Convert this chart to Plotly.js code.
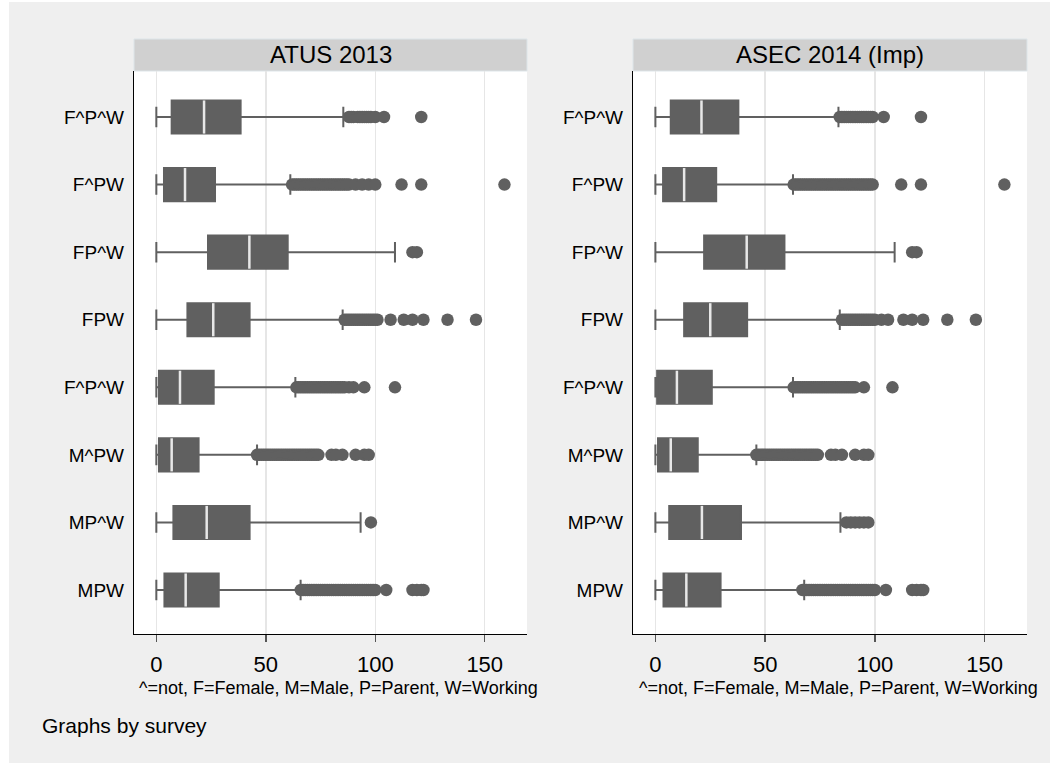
<!DOCTYPE html>
<html>
<head>
<meta charset="utf-8">
<script src="https://cdn.plot.ly/plotly-3.0.1.min.js"></script>
<style>
html,body{margin:0;padding:0;background:#ffffff;}
#chart{width:1050px;height:763px;}
</style>
</head>
<body>
<div id="chart"></div>
<script>
// ---------- DATA ----------
const categories = ['F^P^W','F^PW','FP^W','FPW','F^P^W','M^PW','MP^W','MPW'];
const panels = ['ATUS 2013','ASEC 2014 (Imp)'];
const xTickVals = [0,50,100,150];
const xTitle = '^=not, F=Female, M=Male, P=Parent, W=Working';
const note = 'Graphs by survey';

// ATUS 2013
const atusLower  = [0, 0, 0, 0, 0, 0, 0, 0];
const atusQ1     = [7.0, 3.5, 23.6, 14.2, 1.2, 1.2, 7.8, 3.7];
const atusMedian = [21.8, 13.1, 42.5, 26.0, 10.8, 7.0, 23.0, 13.4];
const atusQ3     = [38.5, 26.8, 60.0, 42.6, 26.2, 19.3, 42.6, 28.5];
const atusUpper  = [85.4, 61.2, 109.0, 85.1, 63.5, 46.0, 93.3, 65.9];
const atusOutliers = [
  [88,89,90,92,93,94,95,96,97,98,100,104,121],
  [62,63,64,65,66,67,68,69,70,71,72,73,74,75,76,77,78,79,80,81,82,83,84,85,86,87,88,91,94,97,100,112,121,159],
  [117,119],
  [86,87,88,89,90,91,92,93,94,95,96,97,98,99,100,101,107,113,117,122,133,146],
  [64,65,66,67,68,69,70,71,72,73,74,75,76,77,78,79,80,81,82,83,84,85,86,88,90,95,109],
  [46,47,48,49,50,51,52,53,54,55,56,57,58,59,60,61,62,63,64,65,66,67,68,69,70,71,72,73,74,80,82,85,91,95,97],
  [98],
  [66,67,68,69,70,71,72,73,74,75,76,77,78,79,80,81,82,83,84,85,86,87,88,89,90,91,92,93,94,95,96,97,98,99,100,105,117,119,121,122]
];

// ASEC 2014 (Imp)
const asecLower  = [0, 0, 0, 0, 0, 0, 0, 0];
const asecQ1     = [7.0, 3.5, 22.2, 13.1, 0.8, 1.2, 6.3, 3.7];
const asecMedian = [21.0, 13.1, 41.6, 25.0, 9.8, 7.0, 21.2, 14.1];
const asecQ3     = [37.8, 27.7, 58.8, 41.8, 25.7, 19.3, 39.0, 29.7];
const asecUpper  = [83.4, 62.7, 109.0, 84.0, 62.7, 46.0, 84.3, 67.8];
const asecOutliers = [
  [84,85,86,87,88,89,90,91,92,93,94,95,96,97,98,99,104,121],
  [63,64,65,66,67,68,69,70,71,72,73,74,75,76,77,78,79,80,81,82,83,84,85,86,87,88,89,90,91,92,93,94,95,96,97,98,99,112,121,159],
  [117,119],
  [85,86,87,88,89,90,91,92,93,94,95,96,97,98,99,100,103,106,113,117,122,133,146],
  [63,64,65,66,67,68,69,70,71,72,73,74,75,76,77,78,79,80,81,82,83,84,85,86,87,88,89,90,91,95,108],
  [46,47,48,49,50,51,52,53,54,55,56,57,58,59,60,61,62,63,64,65,66,67,68,69,70,71,72,73,74,80,82,85,91,95,97],
  [87,89,91,93,95,97],
  [67,68,69,70,71,72,73,74,75,76,77,78,79,80,81,82,83,84,85,86,87,88,89,90,91,92,93,94,95,96,97,98,99,100,105,117,119,121,122]
];

// ---------- BUILD ----------
const W = 1050, H = 763;
const FONT = 'Liberation Sans, Arial, Helvetica, sans-serif';
const GRAY = '#606060';
const positions = categories.map((c, i) => i + 1);
const BOXW = 0.49;

const panelData = [
  {lower: atusLower, q1: atusQ1, med: atusMedian, q3: atusQ3, upper: atusUpper, out: atusOutliers, xa: 'x', ya: 'y'},
  {lower: asecLower, q1: asecQ1, med: asecMedian, q3: asecQ3, upper: asecUpper, out: asecOutliers, xa: 'x2', ya: 'y2'}
];

const traces = [];
panelData.forEach(p => {
  traces.push({
    type: 'box', orientation: 'h',
    y: positions, q1: p.q1, median: p.med, q3: p.q3,
    lowerfence: p.lower, upperfence: p.upper,
    boxpoints: false, width: BOXW, whiskerwidth: 0.62,
    fillcolor: GRAY, line: {color: GRAY, width: 2},
    xaxis: p.xa, yaxis: p.ya, showlegend: false, hoverinfo: 'skip'
  });
  const mx = [], my = [];
  p.med.forEach((m, i) => {
    mx.push(m, m, null);
    my.push(positions[i] - BOXW / 2, positions[i] + BOXW / 2, null);
  });
  traces.push({
    type: 'scatter', mode: 'lines', x: mx, y: my,
    line: {color: '#e8e8e8', width: 2.5},
    xaxis: p.xa, yaxis: p.ya, showlegend: false, hoverinfo: 'skip'
  });
  const ox = [], oy = [];
  p.out.forEach((arr, i) => arr.forEach(v => { ox.push(v); oy.push(positions[i]); }));
  traces.push({
    type: 'scatter', mode: 'markers', x: ox, y: oy,
    marker: {color: GRAY, size: 12.5, line: {width: 0}},
    xaxis: p.xa, yaxis: p.ya, showlegend: false, hoverinfo: 'skip'
  });
});

const px = v => v / W;
const py = v => 1 - v / H;
const panelX = [[134, 527], [633, 1027]];
const plotTop = 71, plotBottom = 634, stripTop = 39;

function xAxis(dom, anchor) {
  return {
    domain: [px(dom[0]), px(dom[1])], anchor: anchor,
    range: [-10.2, 169.3], tickmode: 'array', tickvals: xTickVals,
    ticks: 'outside', ticklen: 7, tickwidth: 1.5, tickcolor: '#555555',
    ticklabelstandoff: 3,
    tickfont: {family: FONT, size: 22, color: '#000000'},
    showgrid: true, gridcolor: '#e6e6e6', gridwidth: 1.5,
    showline: true, linecolor: '#000000', linewidth: 1.2,
    zeroline: false, fixedrange: true
  };
}
function yAxis(anchor) {
  return {
    domain: [py(plotBottom), py(plotTop)], anchor: anchor,
    range: [8.651, 0.319], tickmode: 'array', tickvals: positions, ticktext: categories,
    ticks: '', ticklabelstandoff: 5,
    tickfont: {family: FONT, size: 19, color: '#000000'},
    showgrid: false, showline: true, linecolor: '#000000', linewidth: 1.2,
    zeroline: false, fixedrange: true
  };
}

const shapes = [
  {type: 'rect', xref: 'paper', yref: 'paper', x0: 0, x1: px(9), y0: 0, y1: 1, fillcolor: '#ffffff', line: {width: 0}, layer: 'below'},
  {type: 'rect', xref: 'paper', yref: 'paper', x0: 0, x1: 1, y0: py(2), y1: 1, fillcolor: '#ffffff', line: {width: 0}, layer: 'below'}
];
const annotations = [];
panelX.forEach((d, i) => {
  shapes.push({type: 'rect', xref: 'paper', yref: 'paper', x0: px(d[0]), x1: px(d[1]),
    y0: py(plotTop), y1: py(stripTop), fillcolor: '#d0d0d0', line: {color: '#dde5e9', width: 1}, layer: 'below'});
  annotations.push({text: panels[i], xref: 'paper', yref: 'paper', x: px((d[0] + d[1]) / 2), y: py(55),
    xanchor: 'center', yanchor: 'middle', showarrow: false, font: {family: FONT, size: 24, color: '#000000'}});
  annotations.push({text: xTitle, xref: 'paper', yref: 'paper', x: px((d[0] + d[1]) / 2 + 8), y: py(688),
    xanchor: 'center', yanchor: 'middle', showarrow: false, font: {family: FONT, size: 18, color: '#000000'}});
});
annotations.push({text: note, xref: 'paper', yref: 'paper', x: px(40), y: py(725),
  xanchor: 'left', yanchor: 'middle', showarrow: false, font: {family: FONT, size: 21, color: '#000000'}});

const layout = {
  width: W, height: H,
  margin: {l: 0, r: 0, t: 0, b: 0, pad: 0},
  paper_bgcolor: '#efefef', plot_bgcolor: '#ffffff',
  font: {family: FONT, color: '#000000'},
  showlegend: false,
  xaxis: xAxis(panelX[0], 'y'),
  xaxis2: xAxis(panelX[1], 'y2'),
  yaxis: yAxis('x'),
  yaxis2: yAxis('x2'),
  shapes: shapes,
  annotations: annotations
};

Plotly.newPlot('chart', traces, layout, {staticPlot: true, displayModeBar: false});
</script>
</body>
</html>
